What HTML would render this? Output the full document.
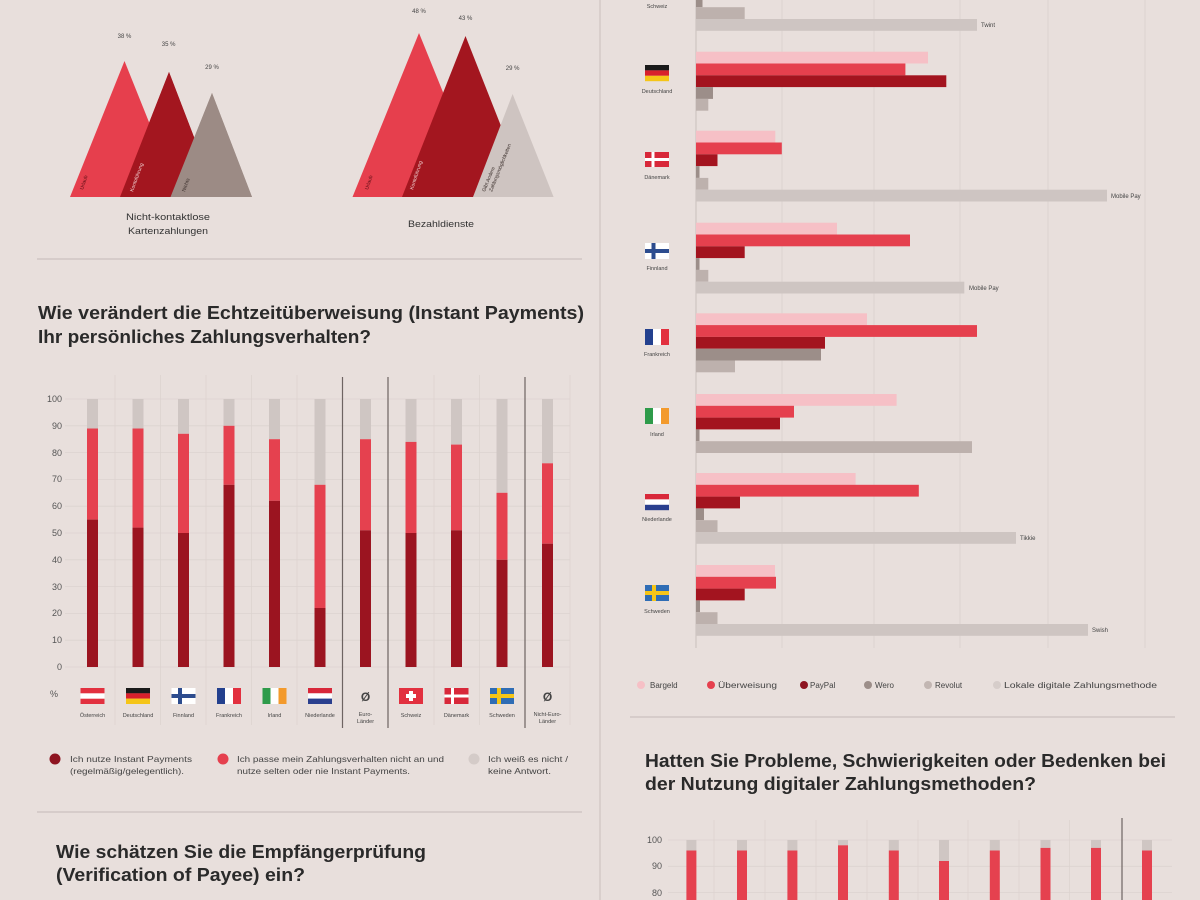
<!DOCTYPE html>
<html><head><meta charset="utf-8"><style>
html,body{margin:0;padding:0;background:#E8DFDC;}
svg{display:block;font-family:"Liberation Sans",sans-serif;}
</style></head><body>
<svg width="1200" height="900" viewBox="0 0 1200 900" xmlns="http://www.w3.org/2000/svg">
<rect width="1200" height="900" fill="#E8DFDC"/>
<!-- center divider -->
<line x1="600" y1="0" x2="600" y2="900" stroke="#D4CAC7" stroke-width="1.5"/>

<!-- ===== Mountains left ===== -->
<polygon points="252,197 212,93 170.5,197" fill="#9C8B85"/>
<polygon points="217,197 169,72 120,197" fill="#A3161F"/>
<polygon points="179,197 124.5,61 70,197" fill="#E63F4D"/>
<polygon points="217,197 169,72 146,132 120,197" fill="#A3161F" opacity="0"/>
<!-- re-draw overlap order: T2 over T1, T3 over T2 -->
<polygon points="217,197 169,72 120,197" fill="#A3161F"/>
<polygon points="252,197 212,93 170.5,197" fill="#9C8B85"/>
<g font-size="5" fill="#5a0e14">
<text transform="translate(83,190) rotate(-72)">Urlaub</text>
</g>
<g font-size="5" fill="#f0d0d0">
<text transform="translate(133,192) rotate(-70)">Kontoführung</text>
</g>
<g font-size="5" fill="#3a2e2b">
<text transform="translate(185,192) rotate(-70)">Nichts</text>
</g>
<g font-size="6" fill="#444" text-anchor="middle">
<text x="124.5" y="38">38 %</text>
<text x="168.6" y="46">35 %</text>
<text x="212" y="69">29 %</text>
<text x="419" y="13">48 %</text>
<text x="465.5" y="20">43 %</text>
<text x="512.6" y="70">29 %</text>
</g>
<g font-size="9.5" fill="#333" text-anchor="middle">
<text x="168" y="220" textLength="84" lengthAdjust="spacingAndGlyphs">Nicht-kontaktlose</text>
<text x="168" y="234" textLength="80" lengthAdjust="spacingAndGlyphs">Kartenzahlungen</text>
<text x="441" y="227" textLength="66" lengthAdjust="spacingAndGlyphs">Bezahldienste</text>
</g>

<!-- ===== Mountains right ===== -->
<polygon points="485.5,197 419,33 352.5,197" fill="#E63F4D"/>
<polygon points="529,197 465.5,36 402,197" fill="#A3161F"/>
<polygon points="553.6,197 512.6,94 473,197" fill="#CEC4C1"/>
<g font-size="5">
<text transform="translate(368,190) rotate(-72)" fill="#5a0e14">Urlaub</text>
<text transform="translate(413,190) rotate(-72)" fill="#f0d0d0">Kontoführung</text>
<text transform="translate(485,192) rotate(-68)" fill="#3a2e2b">Gibt Andere</text>
<text transform="translate(492,192) rotate(-68)" fill="#3a2e2b">Zahlungsmöglichkeiten</text>
</g>

<line x1="37" y1="259" x2="582" y2="259" stroke="#CFC6C3" stroke-width="1.5"/>

<!-- ===== Heading 2 ===== -->
<g font-size="18" font-weight="bold" fill="#2a2a2a">
<text x="38" y="319" textLength="546" lengthAdjust="spacingAndGlyphs">Wie verändert die Echtzeitüberweisung (Instant Payments)</text>
<text x="38" y="343" textLength="333" lengthAdjust="spacingAndGlyphs">Ihr persönliches Zahlungsverhalten?</text>
</g>

<!-- ===== Left stacked chart ===== -->
<g stroke="#DCD3D0" stroke-width="0.8">
<line x1="65" y1="399" x2="570" y2="399"/>
<line x1="65" y1="425.8" x2="570" y2="425.8"/>
<line x1="65" y1="452.6" x2="570" y2="452.6"/>
<line x1="65" y1="479.4" x2="570" y2="479.4"/>
<line x1="65" y1="506.2" x2="570" y2="506.2"/>
<line x1="65" y1="533" x2="570" y2="533"/>
<line x1="65" y1="559.8" x2="570" y2="559.8"/>
<line x1="65" y1="586.6" x2="570" y2="586.6"/>
<line x1="65" y1="613.4" x2="570" y2="613.4"/>
<line x1="65" y1="640.2" x2="570" y2="640.2"/>
<line x1="65" y1="667" x2="570" y2="667"/>
<line x1="115" y1="375" x2="115" y2="725"/>
<line x1="160.5" y1="375" x2="160.5" y2="725"/>
<line x1="206" y1="375" x2="206" y2="725"/>
<line x1="251.5" y1="375" x2="251.5" y2="725"/>
<line x1="297" y1="375" x2="297" y2="725"/>
<line x1="434" y1="375" x2="434" y2="725"/>
<line x1="479.5" y1="375" x2="479.5" y2="725"/>
<line x1="570" y1="375" x2="570" y2="725"/>
</g>
<g stroke="#6E6462" stroke-width="1.2">
<line x1="342.5" y1="377" x2="342.5" y2="728"/>
<line x1="388" y1="377" x2="388" y2="728"/>
<line x1="525" y1="377" x2="525" y2="728"/>
</g>
<g font-size="9" fill="#555" text-anchor="end">
<text x="62" y="402">100</text>
<text x="62" y="429">90</text>
<text x="62" y="456">80</text>
<text x="62" y="482">70</text>
<text x="62" y="509">60</text>
<text x="62" y="536">50</text>
<text x="62" y="563">40</text>
<text x="62" y="590">30</text>
<text x="62" y="616">20</text>
<text x="62" y="643">10</text>
<text x="62" y="670">0</text>
<text x="58" y="697">%</text>
</g>
<!-- bars: gray, red, dark -->
<g>
<rect x="87" y="399" width="11" height="29.5" fill="#CFC6C3"/><rect x="87" y="428.5" width="11" height="91.1" fill="#E5414F"/><rect x="87" y="519.6" width="11" height="147.4" fill="#9B1420"/>
<rect x="132.5" y="399" width="11" height="29.5" fill="#CFC6C3"/><rect x="132.5" y="428.5" width="11" height="99.1" fill="#E5414F"/><rect x="132.5" y="527.6" width="11" height="139.4" fill="#9B1420"/>
<rect x="178" y="399" width="11" height="34.8" fill="#CFC6C3"/><rect x="178" y="433.8" width="11" height="99.2" fill="#E5414F"/><rect x="178" y="533" width="11" height="134" fill="#9B1420"/>
<rect x="223.5" y="399" width="11" height="26.8" fill="#CFC6C3"/><rect x="223.5" y="425.8" width="11" height="59" fill="#E5414F"/><rect x="223.5" y="484.8" width="11" height="182.2" fill="#9B1420"/>
<rect x="269" y="399" width="11" height="40.2" fill="#CFC6C3"/><rect x="269" y="439.2" width="11" height="61.6" fill="#E5414F"/><rect x="269" y="500.8" width="11" height="166.2" fill="#9B1420"/>
<rect x="314.5" y="399" width="11" height="85.8" fill="#CFC6C3"/><rect x="314.5" y="484.8" width="11" height="123.2" fill="#E5414F"/><rect x="314.5" y="608" width="11" height="59" fill="#9B1420"/>
<rect x="360" y="399" width="11" height="40.2" fill="#CFC6C3"/><rect x="360" y="439.2" width="11" height="91.1" fill="#E5414F"/><rect x="360" y="530.3" width="11" height="136.7" fill="#9B1420"/>
<rect x="405.5" y="399" width="11" height="42.9" fill="#CFC6C3"/><rect x="405.5" y="441.9" width="11" height="91.1" fill="#E5414F"/><rect x="405.5" y="533" width="11" height="134" fill="#9B1420"/>
<rect x="451" y="399" width="11" height="45.6" fill="#CFC6C3"/><rect x="451" y="444.6" width="11" height="85.7" fill="#E5414F"/><rect x="451" y="530.3" width="11" height="136.7" fill="#9B1420"/>
<rect x="496.5" y="399" width="11" height="93.8" fill="#CFC6C3"/><rect x="496.5" y="492.8" width="11" height="67" fill="#E5414F"/><rect x="496.5" y="559.8" width="11" height="107.2" fill="#9B1420"/>
<rect x="542" y="399" width="11" height="64.3" fill="#CFC6C3"/><rect x="542" y="463.3" width="11" height="80.4" fill="#E5414F"/><rect x="542" y="543.7" width="11" height="123.3" fill="#9B1420"/>
</g>
<!-- flags left -->
<g>
<!-- Austria -->
<rect x="80.5" y="688" width="24" height="16" fill="#E2303F"/><rect x="80.5" y="693.3" width="24" height="5.4" fill="#fff"/>
<!-- Germany -->
<rect x="126" y="688" width="24" height="5.4" fill="#1a1a1a"/><rect x="126" y="693.3" width="24" height="5.4" fill="#D8202C"/><rect x="126" y="698.6" width="24" height="5.4" fill="#F5C518"/>
<!-- Finland -->
<rect x="171.5" y="688" width="24" height="16" fill="#fff"/><rect x="178" y="688" width="4" height="16" fill="#2D4C8E"/><rect x="171.5" y="694" width="24" height="4" fill="#2D4C8E"/>
<!-- France -->
<rect x="217" y="688" width="8" height="16" fill="#23408E"/><rect x="225" y="688" width="8" height="16" fill="#fff"/><rect x="233" y="688" width="8" height="16" fill="#E2303F"/>
<!-- Ireland -->
<rect x="262.5" y="688" width="8" height="16" fill="#2E9B4A"/><rect x="270.5" y="688" width="8" height="16" fill="#fff"/><rect x="278.5" y="688" width="8" height="16" fill="#F39A2C"/>
<!-- Netherlands -->
<rect x="308" y="688" width="24" height="5.4" fill="#D8283A"/><rect x="308" y="693.3" width="24" height="5.4" fill="#fff"/><rect x="308" y="698.6" width="24" height="5.4" fill="#2A3F8E"/>
<!-- Switzerland -->
<rect x="399" y="688" width="24" height="16" fill="#E2303F"/><rect x="409" y="691" width="4" height="10" fill="#fff"/><rect x="406" y="694" width="10" height="4" fill="#fff"/>
<!-- Denmark -->
<rect x="444.5" y="688" width="24" height="16" fill="#D8283A"/><rect x="451" y="688" width="3" height="16" fill="#fff"/><rect x="444.5" y="694.5" width="24" height="3" fill="#fff"/>
<!-- Sweden -->
<rect x="490" y="688" width="24" height="16" fill="#2F6DB5"/><rect x="497" y="688" width="4" height="16" fill="#F5C518"/><rect x="490" y="694" width="24" height="4" fill="#F5C518"/>
</g>
<g font-size="12" font-weight="bold" fill="#444" text-anchor="middle">
<text x="365.5" y="701">Ø</text>
<text x="547.5" y="701">Ø</text>
</g>
<g font-size="5.5" fill="#444" text-anchor="middle">
<text x="92.5" y="717">Österreich</text>
<text x="138" y="717">Deutschland</text>
<text x="183.5" y="717">Finnland</text>
<text x="229" y="717">Frankreich</text>
<text x="274.5" y="717">Irland</text>
<text x="320" y="717">Niederlande</text>
<text x="365.5" y="716">Euro-</text>
<text x="365.5" y="723">Länder</text>
<text x="411" y="717">Schweiz</text>
<text x="456.5" y="717">Dänemark</text>
<text x="502" y="717">Schweden</text>
<text x="547.5" y="716">Nicht-Euro-</text>
<text x="547.5" y="723">Länder</text>
</g>
<!-- legend left -->
<circle cx="55" cy="759" r="5.5" fill="#8E1420"/>
<circle cx="223" cy="759" r="5.5" fill="#E5404E"/>
<circle cx="474" cy="759" r="5.5" fill="#D4CBC8"/>
<g font-size="8.5" fill="#444">
<text x="70" y="762" textLength="122" lengthAdjust="spacingAndGlyphs">Ich nutze Instant Payments</text>
<text x="70" y="774" textLength="114" lengthAdjust="spacingAndGlyphs">(regelmäßig/gelegentlich).</text>
<text x="237" y="762" textLength="207" lengthAdjust="spacingAndGlyphs">Ich passe mein Zahlungsverhalten nicht an und</text>
<text x="237" y="774" textLength="173" lengthAdjust="spacingAndGlyphs">nutze selten oder nie Instant Payments.</text>
<text x="488" y="762" textLength="80" lengthAdjust="spacingAndGlyphs">Ich weiß es nicht /</text>
<text x="488" y="774" textLength="63" lengthAdjust="spacingAndGlyphs">keine Antwort.</text>
</g>
<line x1="37" y1="812" x2="582" y2="812" stroke="#CFC6C3" stroke-width="1.5"/>
<g font-size="18" font-weight="bold" fill="#2a2a2a">
<text x="56" y="858" textLength="370" lengthAdjust="spacingAndGlyphs">Wie schätzen Sie die Empfängerprüfung</text>
<text x="56" y="881" textLength="249" lengthAdjust="spacingAndGlyphs">(Verification of Payee) ein?</text>
</g>

<!-- ===== Right horizontal bar chart ===== -->
<g stroke="#DCD2CF" stroke-width="0.9">
<line x1="782" y1="0" x2="782" y2="648"/>
<line x1="874" y1="0" x2="874" y2="648"/>
<line x1="960" y1="0" x2="960" y2="648"/>
<line x1="1048" y1="0" x2="1048" y2="648"/>
<line x1="1145" y1="0" x2="1145" y2="648"/>
</g>
<line x1="696" y1="0" x2="696" y2="648" stroke="#CFC5C2" stroke-width="1.2"/>
<g>
<!-- Schweiz partial -->
<rect x="696" y="-4.6" width="6.5" height="11.8" fill="#9C8E89"/>
<rect x="696" y="7.2" width="48.7" height="11.8" fill="#BDB1AD"/>
<rect x="696" y="19" width="281" height="11.8" fill="#CEC5C2"/>
<!-- Deutschland -->
<rect x="696" y="51.7" width="232" height="11.8" fill="#F6C0C6"/>
<rect x="696" y="63.5" width="209.4" height="11.8" fill="#E5404E"/>
<rect x="696" y="75.3" width="250.3" height="11.8" fill="#A3141F"/>
<rect x="696" y="87.1" width="17" height="11.8" fill="#9C8E89"/>
<rect x="696" y="98.9" width="12.3" height="11.8" fill="#BDB1AD"/>
<!-- Dänemark -->
<rect x="696" y="130.7" width="79.3" height="11.8" fill="#F6C0C6"/>
<rect x="696" y="142.5" width="85.8" height="11.8" fill="#E5404E"/>
<rect x="696" y="154.3" width="21.5" height="11.8" fill="#A3141F"/>
<rect x="696" y="166.1" width="3.5" height="11.8" fill="#9C8E89"/>
<rect x="696" y="177.9" width="12.3" height="11.8" fill="#BDB1AD"/>
<rect x="696" y="189.7" width="411" height="11.8" fill="#CEC5C2"/>
<!-- Finnland -->
<rect x="696" y="222.7" width="141" height="11.8" fill="#F6C0C6"/>
<rect x="696" y="234.5" width="214" height="11.8" fill="#E5404E"/>
<rect x="696" y="246.3" width="48.7" height="11.8" fill="#A3141F"/>
<rect x="696" y="258.1" width="3.5" height="11.8" fill="#9C8E89"/>
<rect x="696" y="269.9" width="12.3" height="11.8" fill="#BDB1AD"/>
<rect x="696" y="281.7" width="268.3" height="11.8" fill="#CEC5C2"/>
<!-- Frankreich -->
<rect x="696" y="313.3" width="171" height="11.8" fill="#F6C0C6"/>
<rect x="696" y="325.1" width="281" height="11.8" fill="#E5404E"/>
<rect x="696" y="336.9" width="129" height="11.8" fill="#A3141F"/>
<rect x="696" y="348.7" width="125" height="11.8" fill="#9C8E89"/>
<rect x="696" y="360.5" width="39" height="11.8" fill="#BDB1AD"/>
<!-- Irland -->
<rect x="696" y="394" width="200.6" height="11.8" fill="#F6C0C6"/>
<rect x="696" y="405.8" width="98" height="11.8" fill="#E5404E"/>
<rect x="696" y="417.6" width="84" height="11.8" fill="#A3141F"/>
<rect x="696" y="429.4" width="3.5" height="11.8" fill="#9C8E89"/>
<rect x="696" y="441.2" width="276" height="11.8" fill="#BDB1AD"/>
<!-- Niederlande -->
<rect x="696" y="473" width="159.6" height="11.8" fill="#F6C0C6"/>
<rect x="696" y="484.8" width="222.8" height="11.8" fill="#E5404E"/>
<rect x="696" y="496.6" width="44" height="11.8" fill="#A3141F"/>
<rect x="696" y="508.4" width="8" height="11.8" fill="#9C8E89"/>
<rect x="696" y="520.2" width="21.5" height="11.8" fill="#BDB1AD"/>
<rect x="696" y="532" width="320" height="11.8" fill="#CEC5C2"/>
<!-- Schweden -->
<rect x="696" y="565" width="79" height="11.8" fill="#F6C0C6"/>
<rect x="696" y="576.8" width="80" height="11.8" fill="#E5404E"/>
<rect x="696" y="588.6" width="48.7" height="11.8" fill="#A3141F"/>
<rect x="696" y="600.4" width="4" height="11.8" fill="#9C8E89"/>
<rect x="696" y="612.2" width="21.5" height="11.8" fill="#BDB1AD"/>
<rect x="696" y="624" width="392" height="11.8" fill="#CEC5C2"/>
</g>
<g font-size="6" fill="#444">
<text x="981" y="27">Twint</text>
<text x="1111" y="198">Mobile Pay</text>
<text x="969" y="290">Mobile Pay</text>
<text x="1020" y="540">Tikkie</text>
<text x="1092" y="632">Swish</text>
</g>
<!-- right flags -->
<g>
<rect x="645" y="65" width="24" height="5.4" fill="#1a1a1a"/><rect x="645" y="70.4" width="24" height="5.4" fill="#D8202C"/><rect x="645" y="75.8" width="24" height="5.4" fill="#F5C518"/>
<rect x="645" y="152" width="24" height="15" fill="#D8283A"/><rect x="651.5" y="152" width="3" height="15" fill="#fff"/><rect x="645" y="158" width="24" height="3" fill="#fff"/>
<rect x="645" y="243" width="24" height="16" fill="#fff"/><rect x="651.5" y="243" width="4" height="16" fill="#2D4C8E"/><rect x="645" y="249" width="24" height="4" fill="#2D4C8E"/>
<rect x="645" y="329" width="8" height="16" fill="#23408E"/><rect x="653" y="329" width="8" height="16" fill="#fff"/><rect x="661" y="329" width="8" height="16" fill="#E2303F"/>
<rect x="645" y="408" width="8" height="16" fill="#2E9B4A"/><rect x="653" y="408" width="8" height="16" fill="#fff"/><rect x="661" y="408" width="8" height="16" fill="#F39A2C"/>
<rect x="645" y="494" width="24" height="5.4" fill="#D8283A"/><rect x="645" y="499.4" width="24" height="5.4" fill="#fff"/><rect x="645" y="504.8" width="24" height="5.4" fill="#2A3F8E"/>
<rect x="645" y="585" width="24" height="16" fill="#2F6DB5"/><rect x="652" y="585" width="4" height="16" fill="#F5C518"/><rect x="645" y="591" width="24" height="4" fill="#F5C518"/>
</g>
<g font-size="5.5" fill="#444" text-anchor="middle">
<text x="657" y="8">Schweiz</text>
<text x="657" y="93">Deutschland</text>
<text x="657" y="179">Dänemark</text>
<text x="657" y="270">Finnland</text>
<text x="657" y="356">Frankreich</text>
<text x="657" y="436">Irland</text>
<text x="657" y="521">Niederlande</text>
<text x="657" y="613">Schweden</text>
</g>
<!-- right legend -->
<circle cx="641" cy="685" r="4" fill="#F6C0C6"/>
<circle cx="711" cy="685" r="4" fill="#E5404E"/>
<circle cx="804" cy="685" r="4" fill="#8E1420"/>
<circle cx="868" cy="685" r="4" fill="#9C8E89"/>
<circle cx="928" cy="685" r="4" fill="#C2B6B2"/>
<circle cx="997" cy="685" r="4" fill="#D6CDCA"/>
<g font-size="8" fill="#444">
<text x="650" y="688">Bargeld</text>
<text x="718" y="688" textLength="59" lengthAdjust="spacingAndGlyphs">Überweisung</text>
<text x="810" y="688">PayPal</text>
<text x="875" y="688">Wero</text>
<text x="935" y="688">Revolut</text>
<text x="1004" y="688" textLength="153" lengthAdjust="spacingAndGlyphs">Lokale digitale Zahlungsmethode</text>
</g>
<line x1="630" y1="717" x2="1175" y2="717" stroke="#CFC6C3" stroke-width="1.5"/>
<g font-size="18" font-weight="bold" fill="#2a2a2a">
<text x="645" y="767" textLength="521" lengthAdjust="spacingAndGlyphs">Hatten Sie Probleme, Schwierigkeiten oder Bedenken bei</text>
<text x="645" y="790" textLength="391" lengthAdjust="spacingAndGlyphs">der Nutzung digitaler Zahlungsmethoden?</text>
</g>

<!-- ===== Bottom-right chart ===== -->
<g stroke="#DCD3D0" stroke-width="0.8">
<line x1="668" y1="840" x2="1172" y2="840"/>
<line x1="668" y1="866.3" x2="1172" y2="866.3"/>
<line x1="668" y1="892.6" x2="1172" y2="892.6"/>
<line x1="714" y1="820" x2="714" y2="900"/>
<line x1="765" y1="820" x2="765" y2="900"/>
<line x1="816" y1="820" x2="816" y2="900"/>
<line x1="867" y1="820" x2="867" y2="900"/>
<line x1="918" y1="820" x2="918" y2="900"/>
<line x1="968" y1="820" x2="968" y2="900"/>
<line x1="1019" y1="820" x2="1019" y2="900"/>
<line x1="1069.5" y1="820" x2="1069.5" y2="900"/>
</g>
<line x1="1122" y1="818" x2="1122" y2="900" stroke="#6E6462" stroke-width="1.2"/>
<g font-size="9" fill="#555" text-anchor="end">
<text x="662" y="843">100</text>
<text x="662" y="869">90</text>
<text x="662" y="896">80</text>
</g>
<g>
<rect x="686.4" y="840" width="10" height="10.5" fill="#CFC6C3"/><rect x="686.4" y="850.5" width="10" height="50" fill="#E5414F"/>
<rect x="737" y="840" width="10" height="10.5" fill="#CFC6C3"/><rect x="737" y="850.5" width="10" height="50" fill="#E5414F"/>
<rect x="787.4" y="840" width="10" height="10.5" fill="#CFC6C3"/><rect x="787.4" y="850.5" width="10" height="50" fill="#E5414F"/>
<rect x="838" y="840" width="10" height="5.3" fill="#CFC6C3"/><rect x="838" y="845.3" width="10" height="55" fill="#E5414F"/>
<rect x="888.8" y="840" width="10" height="10.5" fill="#CFC6C3"/><rect x="888.8" y="850.5" width="10" height="50" fill="#E5414F"/>
<rect x="939" y="840" width="10" height="21" fill="#CFC6C3"/><rect x="939" y="861" width="10" height="40" fill="#E5414F"/>
<rect x="989.8" y="840" width="10" height="10.5" fill="#CFC6C3"/><rect x="989.8" y="850.5" width="10" height="50" fill="#E5414F"/>
<rect x="1040.5" y="840" width="10" height="7.9" fill="#CFC6C3"/><rect x="1040.5" y="847.9" width="10" height="53" fill="#E5414F"/>
<rect x="1091" y="840" width="10" height="7.9" fill="#CFC6C3"/><rect x="1091" y="847.9" width="10" height="53" fill="#E5414F"/>
<rect x="1142" y="840" width="10" height="10.5" fill="#CFC6C3"/><rect x="1142" y="850.5" width="10" height="50" fill="#E5414F"/>
</g>
</svg>
</body></html>
